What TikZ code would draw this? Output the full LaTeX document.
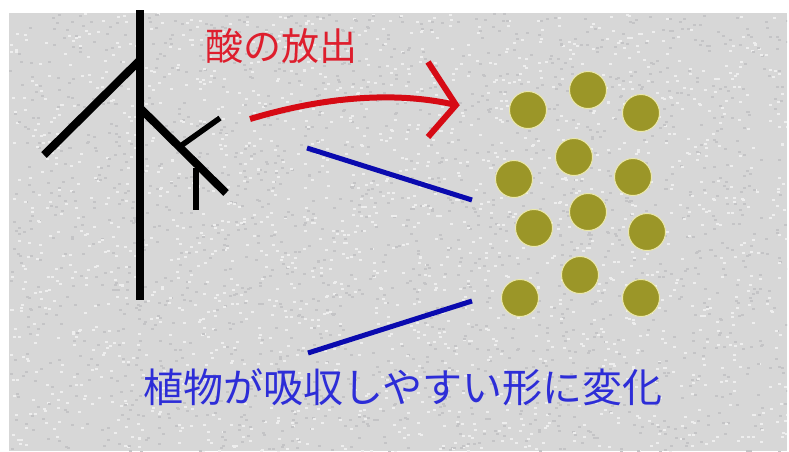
\documentclass[tikz,border=0pt]{standalone}
\usepackage{fontspec}
\newfontfamily\jpfont{Noto Sans CJK JP}
\usetikzlibrary{calc}
\definecolor{paper}{RGB}{215,215,215}
\definecolor{speckleLight}{RGB}{238,238,238}
\definecolor{speckleDark}{RGB}{196,196,198}
\definecolor{acidred}{RGB}{214,10,20}
\definecolor{labelred}{RGB}{222,30,45}
\definecolor{lineblue}{RGB}{10,10,175}
\definecolor{labelblue}{RGB}{45,45,215}
\definecolor{grain}{RGB}{155,150,40}
\definecolor{grainrim}{RGB}{235,232,170}
\tikzset{
  stem/.style={black, line width=8pt, line cap=butt},
  twig/.style={black, line width=5.5pt},
  guide/.style={lineblue, line width=5pt},
  acid/.style={acidred, line width=6pt},
  particle/.style={circle, fill=grain, draw=grainrim, line width=1pt, minimum size=37pt, inner sep=0pt},
  caption/.style={font=\jpfont, inner sep=0pt}
}
\begin{document}
\begin{tikzpicture}[x=1pt,y=-1pt]
  \useasboundingbox (0,0) rectangle (789,451);
  % textured paper ground
  \fill[paper] (9,13) rectangle (787,451);
  \pgfmathsetseed{7}
  \begin{scope}
    \clip (9,13) rectangle (787,451);
    \foreach \k in {1,...,1800} {
      \pgfmathsetmacro{\sx}{9+778*rnd}
      \pgfmathsetmacro{\sy}{13+438*rnd}
      \fill[speckleLight] (\sx,\sy) rectangle ++(3,2);
      \pgfmathsetmacro{\tx}{9+778*rnd}
      \pgfmathsetmacro{\ty}{13+438*rnd}
      \fill[speckleDark] (\tx,\ty) rectangle ++(3,2);
    }
  \end{scope}

  % tree: trunk and branches
  \coordinate (trunkTop) at (140,10);
  \coordinate (trunkBot) at (140,300);
  \coordinate (forkL) at (140,60);
  \coordinate (leafL) at (44,155);
  \coordinate (forkR) at (140,108);
  \coordinate (leafR) at (226,193);
  \coordinate (twigA0) at (182,145);
  \coordinate (twigA1) at (220,118);
  \coordinate (twigB0) at (196,168);
  \coordinate (twigB1) at (196,210);
  \draw[stem] (trunkTop) -- (trunkBot);
  \draw[stem] (forkL) -- (leafL);
  \draw[stem] (forkR) -- (leafR);
  \draw[twig] (twigA0) -- (twigA1);
  \draw[twig] (twigB0) -- (twigB1);

  % acid release arrow
  \coordinate (arrS) at (250,119);
  \coordinate (arrT) at (456,105);
  \coordinate (headU) at (428,62);
  \coordinate (headD) at (428,137);
  \draw[acid] (arrS) .. controls (330,95) and (400,92) .. (arrT);
  \draw[acid, line join=miter] (headU) -- (arrT) -- (headD);
  \node[caption, text=labelred, font=\jpfont\fontsize{38pt}{38pt}\selectfont] (acidLabel) at (281,46) {酸の放出};

  % particles
  \foreach \px/\py [count=\i] in {528/110, 588/90, 641/113, 574/157, 514/179, 633/177,
                                 588/212, 534/228, 647/232, 580/275, 520/298, 641/298}
    \node[particle] (p\i) at (\px,\py) {};

  % guide lines to the label
  \coordinate (g1a) at (307,148);
  \coordinate (g1b) at (472,200);
  \coordinate (g2a) at (472,301);
  \coordinate (g2b) at (308,353);
  \draw[guide] (g1a) -- (g1b);
  \draw[guide] (g2a) -- (g2b);

  \node[caption, text=labelblue, font=\jpfont\fontsize{40pt}{40pt}\selectfont] (changeLabel) at (403,387) {植物が吸収しやすい形に変化};
\end{tikzpicture}
\end{document}
